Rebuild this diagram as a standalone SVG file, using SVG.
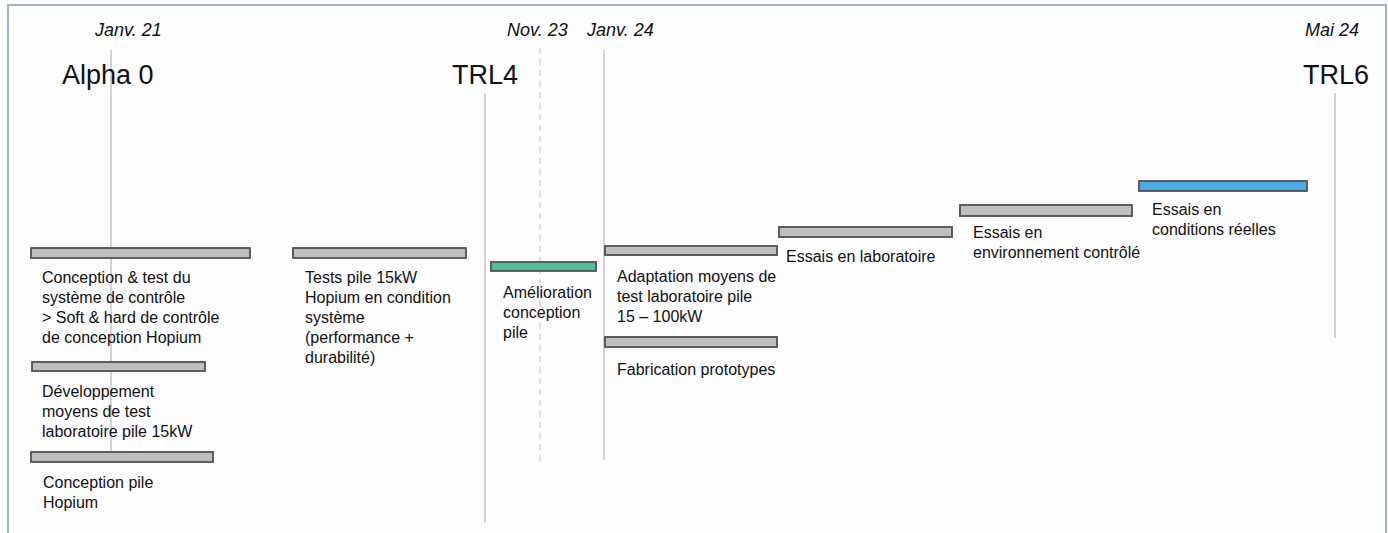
<svg xmlns="http://www.w3.org/2000/svg" width="1388" height="533" viewBox="0 0 1388 533">
<style>
.bg{fill:#fdfcfe}
.frame{fill:none;stroke:#9fb2c9;stroke-width:2}
.vl{stroke:#c6c6c6;stroke-width:1.5}
.dash{stroke:#f2c9d2;stroke-width:1.5;stroke-dasharray:6 5}
.bar{fill:#bfbfbf;stroke:#505050;stroke-width:1.8}
.green{fill:#4fc096}
.blue{fill:#4aa9e3}
.date{font-family:"Liberation Sans",Arial,sans-serif;font-style:italic;font-size:18px;fill:#111}
.ms{font-family:"Liberation Sans",Arial,sans-serif;font-size:27px;fill:#111}
.lbl{font-family:"Liberation Sans",Arial,sans-serif;font-size:16px;fill:#111}
</style>
<rect class="bg" x="0" y="0" width="1388" height="533"/>
<path class="frame" d="M8,533 V5 H1386 V533"/>
<g id="connectors">
<line class="vl" x1="111" y1="50" x2="111" y2="455"/>
<line class="vl" x1="485" y1="93" x2="485" y2="523"/>
<line class="dash" x1="540" y1="48" x2="540" y2="462"/>
<line class="vl" x1="604" y1="50" x2="604" y2="460"/>
<line class="vl" x1="1335" y1="93" x2="1335" y2="338"/>
</g>
<g id="m-alpha0"><text class="date" x="95" y="36">Janv. 21</text><text class="ms" x="62" y="84">Alpha 0</text></g>
<g id="m-trl4"><text class="ms" x="452" y="84">TRL4</text></g>
<g id="m-nov23"><text class="date" x="507" y="36">Nov. 23</text></g>
<g id="m-janv24"><text class="date" x="587" y="36">Janv. 24</text></g>
<g id="m-trl6"><text class="date" x="1305" y="36">Mai 24</text><text class="ms" x="1303" y="84">TRL6</text></g>
<g id="t-controle"><rect class="bar" x="31" y="248" width="219" height="10"/>
<text class="lbl" x="42"><tspan x="42" y="283">Conception &amp; test du</tspan><tspan x="42" y="303">système de contrôle</tspan><tspan x="42" y="323">&gt; Soft &amp; hard de contrôle</tspan><tspan x="42" y="343">de conception Hopium</tspan></text></g>
<g id="t-tests"><rect class="bar" x="293" y="248" width="173" height="10"/>
<text class="lbl"><tspan x="305" y="283">Tests pile 15kW</tspan><tspan x="305" y="303">Hopium en condition</tspan><tspan x="305" y="323">système</tspan><tspan x="305" y="343">(performance +</tspan><tspan x="305" y="363">durabilité)</tspan></text></g>
<g id="t-dev"><rect class="bar" x="32" y="362" width="173" height="9"/>
<text class="lbl"><tspan x="42" y="397">Développement</tspan><tspan x="42" y="417">moyens de test</tspan><tspan x="42" y="437">laboratoire pile 15kW</tspan></text></g>
<g id="t-pile"><rect class="bar" x="31" y="452" width="182" height="10"/>
<text class="lbl"><tspan x="43" y="488">Conception pile</tspan><tspan x="43" y="508">Hopium</tspan></text></g>
<g id="t-amelio"><rect class="bar green" x="491" y="262" width="105" height="9"/>
<text class="lbl"><tspan x="503" y="298">Amélioration</tspan><tspan x="503" y="318">conception</tspan><tspan x="503" y="338">pile</tspan></text></g>
<g id="t-adapt"><rect class="bar" x="605" y="246" width="172" height="9"/>
<text class="lbl"><tspan x="617" y="282">Adaptation moyens de</tspan><tspan x="617" y="302">test laboratoire pile</tspan><tspan x="617" y="322">15 – 100kW</tspan></text></g>
<g id="t-fab"><rect class="bar" x="605" y="337" width="172" height="10"/>
<text class="lbl" x="617" y="375">Fabrication prototypes</text></g>
<g id="t-labo"><rect class="bar" x="779" y="227" width="173" height="10"/>
<text class="lbl" x="786" y="262">Essais en laboratoire</text></g>
<g id="t-env"><rect class="bar" x="960" y="205" width="172" height="11"/>
<text class="lbl"><tspan x="973" y="238">Essais en</tspan><tspan x="973" y="258">environnement contrôlé</tspan></text></g>
<g id="t-reel"><rect class="bar blue" x="1139" y="181" width="168" height="10"/>
<text class="lbl"><tspan x="1152" y="215">Essais en</tspan><tspan x="1152" y="235">conditions réelles</tspan></text></g>
</svg>
